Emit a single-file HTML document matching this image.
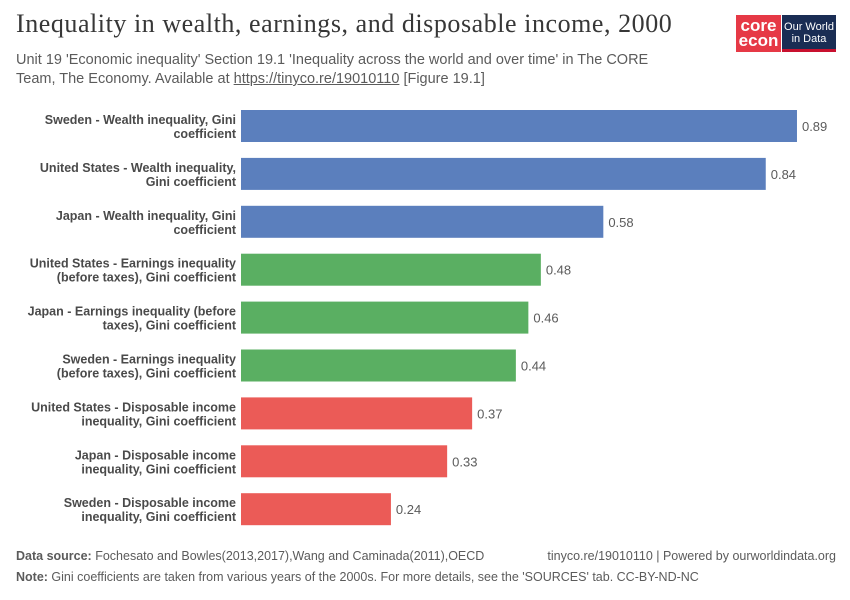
<!DOCTYPE html>
<html><head><meta charset="utf-8"><style>
body{margin:0;width:850px;height:600px;background:#fff;font-family:"Liberation Sans",sans-serif;position:relative;overflow:hidden}
.t{position:absolute;margin:0}
</style></head><body>
<h1 class="t" style="left:16px;top:9px;font-family:'Liberation Serif',serif;font-size:26px;font-weight:normal;color:#373737;letter-spacing:0.55px">Inequality in wealth, earnings, and disposable income, 2000</h1>
<div class="t" style="left:16px;top:51px;font-size:14.5px;line-height:19px;color:#5b5b5b;width:655px">Unit 19 'Economic inequality' Section 19.1 'Inequality across the world and over time' in The CORE Team, The Economy. Available at <u>https://tinyco.re/19010110</u> [Figure 19.1]</div>
<div class="t" style="left:736px;top:15px;width:45px;height:37px;background:#e63946;color:#fff;font-weight:bold;font-size:17px;line-height:15px;text-align:center;padding-top:3px;box-sizing:border-box">core<br>econ</div>
<div class="t" style="left:782px;top:15px;width:54px;height:37px;background:#1a2d54;color:#fff;font-size:11px;line-height:12px;text-align:center;padding-top:6px;box-sizing:border-box;border-bottom:3px solid #c8102e">Our World<br>in Data</div>
<svg id="c" class="t" style="left:0;top:0" width="850" height="600"></svg>
<div class="t" style="left:16px;top:549px;font-size:12.5px;color:#5b5b5b"><b>Data source:</b> Fochesato and Bowles(2013,2017),Wang and Caminada(2011),OECD</div>
<div class="t" style="right:14px;top:549px;font-size:12.5px;color:#5b5b5b">tinyco.re/19010110 | Powered by ourworldindata.org</div>
<div class="t" style="left:16px;top:570px;font-size:12.5px;color:#5b5b5b"><b>Note:</b> Gini coefficients are taken from various years of the 2000s. For more details, see the 'SOURCES' tab. CC-BY-ND-NC</div>
<script>
const labels1=["Sweden - Wealth inequality, Gini","United States - Wealth inequality,","Japan - Wealth inequality, Gini","United States - Earnings inequality","Japan - Earnings inequality (before","Sweden - Earnings inequality","United States - Disposable income","Japan - Disposable income","Sweden - Disposable income"];
const labels2=["coefficient","Gini coefficient","coefficient","(before taxes), Gini coefficient","taxes), Gini coefficient","(before taxes), Gini coefficient","inequality, Gini coefficient","inequality, Gini coefficient","inequality, Gini coefficient"];
const values=[0.89,0.84,0.58,0.48,0.46,0.44,0.37,0.33,0.24];
const groups=[0,0,0,1,1,1,2,2,2];
const colors=["#5b7fbd","#5aaf62","#eb5b57"];
const svg=document.getElementById('c');const ns="http://www.w3.org/2000/svg";
const x0=241,k=624.7,top0=110,pitch=47.9,bh=32;
const xs=v=>x0+v*k, ys=i=>top0+i*pitch;
values.forEach((v,i)=>{
 const r=document.createElementNS(ns,'rect');
 r.setAttribute('x',x0);r.setAttribute('y',ys(i));r.setAttribute('width',xs(v)-x0);r.setAttribute('height',bh);r.setAttribute('fill',colors[groups[i]]);
 
 
 svg.appendChild(r);
 const t=document.createElementNS(ns,'text');
 t.setAttribute('x',xs(v)+5);t.setAttribute('y',ys(i)+bh/2+5);t.setAttribute('font-size','13');t.setAttribute('fill','#5b5b5b');t.textContent=v.toFixed(2);
 
 
 svg.appendChild(t);
 [labels1[i],labels2[i]].forEach((s,j)=>{
  const l=document.createElementNS(ns,'text');
  l.setAttribute('x',236);l.setAttribute('y',ys(i)+bh/2-2+j*14);l.setAttribute('text-anchor','end');l.setAttribute('font-size','12.5');l.setAttribute('font-weight','bold');l.setAttribute('fill','#4a4a4a');l.textContent=s;
  
  
  svg.appendChild(l);
 });
});
</script>
</body></html>
